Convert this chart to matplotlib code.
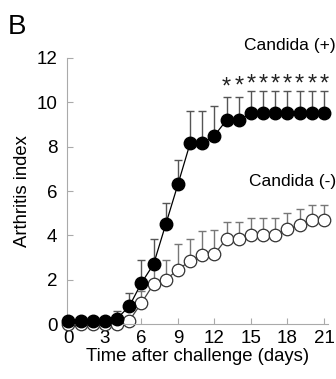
import numpy as np
import matplotlib
matplotlib.use("Agg")
import matplotlib.pyplot as plt

plt.rcParams["font.family"] = ["Liberation Sans", "DejaVu Sans"]

days = list(range(22))

# Candida (+), filled circles
pos_mean = [0.15, 0.15, 0.15, 0.15, 0.25, 0.8, 1.85, 2.7, 4.5, 6.3, 8.15, 8.15,
            8.5, 9.2, 9.2, 9.5, 9.5, 9.5, 9.5, 9.5, 9.5, 9.5]
pos_upper = [0.15, 0.15, 0.15, 0.15, 0.6, 1.4, 2.9, 3.85, 5.45, 7.4, 9.6, 9.6,
             9.85, 10.25, 10.25, 10.5, 10.5, 10.5, 10.5, 10.5, 10.5, 10.5]

# Candida (-), open circles
neg_mean = [0.0, 0.0, 0.0, 0.0, 0.0, 0.15, 0.95, 1.8, 2.0, 2.45, 2.85, 3.1,
            3.15, 3.85, 3.85, 4.0, 4.0, 4.0, 4.3, 4.45, 4.7, 4.7]
neg_upper = [0.0, 0.0, 0.0, 0.0, 0.0, 0.3, 1.5, 2.6, 2.9, 3.6, 3.85, 4.2,
             4.25, 4.6, 4.6, 4.8, 4.8, 4.8, 5.0, 5.2, 5.35, 5.35]

star_days = list(range(13, 22))
star_y = [10.65, 10.7, 10.8, 10.8, 10.8, 10.8, 10.8, 10.8, 10.8]

xticks = [0, 3, 6, 9, 12, 15, 18, 21]
yticks = [0, 2, 4, 6, 8, 10, 12]

fig = plt.figure(figsize=(3.36, 3.79), dpi=100)
ax = fig.add_axes([0.2, 0.145, 0.775, 0.702])

neg_err = np.array(neg_upper) - np.array(neg_mean)
pos_err = np.array(pos_upper) - np.array(pos_mean)

ax.errorbar(days, neg_mean, yerr=[np.zeros(22), neg_err], fmt="none",
            ecolor="#777777", elinewidth=1.0, capsize=3, capthick=1.0, zorder=1)
ax.plot(days, neg_mean, "-", color="#444444", lw=0.9, marker="o", ms=9,
        mfc="white", mec="#333333", mew=0.9, zorder=2, clip_on=False)

ax.errorbar(days, pos_mean, yerr=[np.zeros(22), pos_err], fmt="none",
            ecolor="#555555", elinewidth=1.0, capsize=3, capthick=1.0, zorder=3)
ax.plot(days, pos_mean, "-", color="black", lw=0.9, marker="o", ms=9,
        mfc="black", mec="black", zorder=4, clip_on=False)

for d, y in zip(star_days, star_y):
    ax.text(d, y, "*", ha="center", va="center", fontsize=17, color="#222222")

ax.text(22.0, 12.55, "Candida (+)", ha="right", va="center", fontsize=12.5)
ax.text(22.0, 6.45, "Candida (-)", ha="right", va="center", fontsize=12.5)
fig.text(0.022, 0.93, "B", fontsize=20, ha="left", va="center")

ax.set_xlim(-0.1, 21.3)
ax.set_ylim(0, 12)
ax.set_xticks(xticks)
ax.set_yticks(yticks)
ax.tick_params(direction="in", length=4, color="#aaaaaa", labelsize=13.5, pad=7)
ax.tick_params(axis="x", pad=4)
for s in ["top", "right"]:
    ax.spines[s].set_visible(False)
for s in ["left", "bottom"]:
    ax.spines[s].set_color("#aaaaaa")
    ax.spines[s].set_linewidth(0.8)

ax.set_xlabel("Time after challenge (days)", fontsize=13.3, labelpad=1)
ax.set_ylabel("Arthritis index", fontsize=13.3, labelpad=4)

fig.savefig("out.png", dpi=100)
